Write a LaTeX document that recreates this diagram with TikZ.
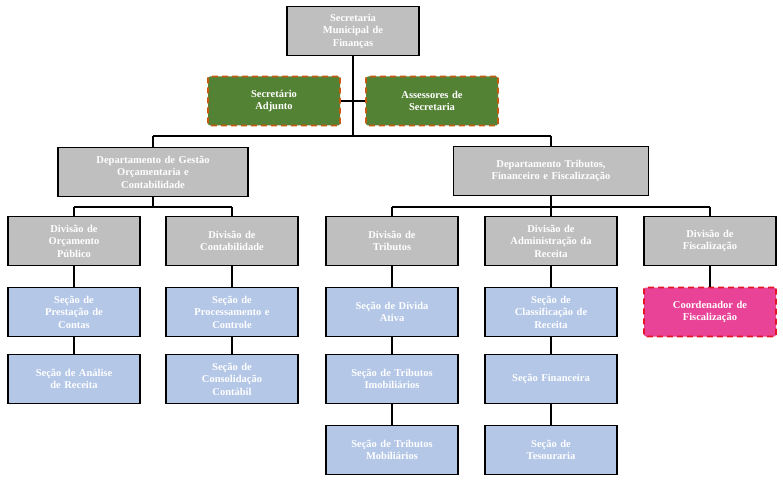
\documentclass[tikz,border=0pt]{standalone}
\usepackage{fontspec}
\setmainfont{Liberation Serif}
\definecolor{boxgray}{RGB}{191,191,191}
\definecolor{boxgreen}{RGB}{84,130,53}
\definecolor{dashorange}{RGB}{197,90,17}
\definecolor{boxblue}{RGB}{180,199,231}
\definecolor{boxpink}{RGB}{232,67,150}
\definecolor{dashred}{RGB}{230,20,40}
\tikzset{
  box/.style={draw=black, line width=1.3pt, minimum width=132pt, minimum height=49pt,
    text width=126pt, align=center, inner sep=2pt, text=white,
    font=\bfseries\fontsize{10.5}{12.5}\selectfont},
  gray box/.style={box, fill=boxgray},
  blue box/.style={box, fill=boxblue},
  green box/.style={box, fill=boxgreen, draw=dashorange, dash pattern=on 6pt off 4pt, line width=1.8pt, rounded corners=2pt},
  pink box/.style={box, fill=boxpink, draw=dashred, dash pattern=on 6pt off 4pt, line width=1.8pt, rounded corners=2pt},
  link/.style={line width=1.3pt}
}
\begin{document}
\begin{tikzpicture}[x=1pt,y=-1pt]
  \useasboundingbox (0,0) rectangle (783,481);

  % connectors first, boxes on top
  \coordinate (trunk) at (353,136);
  \coordinate (mid) at (353,101);
  \coordinate (lb) at (153,136);
  \coordinate (rb) at (551,136);
  \coordinate (lg) at (74,207);
  \coordinate (rg) at (232,207);
  \coordinate (lt) at (392,207);
  \coordinate (ct) at (551,207);
  \coordinate (rt) at (710,207);

  % secretaria
  \node[gray box] (sec) at (353,31) {Secretaria\\Municipal de\\Finanças};
  \node[green box] (adj) at (274,101) {Secretário\\Adjunto};
  \node[green box] (ass) at (432,101) {Assessores de\\Secretaria};

  % departamentos
  \node[gray box, minimum width=190pt, text width=184pt] (dg) at (153,172) {Departamento de Gestão\\Orçamentaria e\\Contabilidade};
  \node[gray box, minimum width=195pt, text width=189pt] (dt) at (551,171) {Departamento Tributos,\\Financeiro e Fiscalizzação};

  % divisoes
  \node[gray box] (dorc) at (74,241) {Divisão de\\Orçamento\\Público};
  \node[gray box] (dcon) at (232,241) {Divisão de\\Contabilidade};
  \node[gray box] (dtri) at (392,241) {Divisão de\\Tributos};
  \node[gray box] (dadm) at (551,241) {Divisão de\\Administração da\\Receita};
  \node[gray box] (dfis) at (710,241) {Divisão de\\Fiscalização};

  % secoes
  \node[blue box] (sprest) at (74,312) {Seção de\\Prestação de\\Contas};
  \node[blue box] (sanal) at (74,379) {Seção de Análise\\de Receita};
  \node[blue box] (sproc) at (232,312) {Seção de\\Processamento e\\Controle};
  \node[blue box] (scons) at (232,379) {Seção de\\Consolidação\\Contábil};
  \node[blue box] (sdiv) at (392,312) {Seção de Dívida\\Ativa};
  \node[blue box] (simob) at (392,379) {Seção de Tributos\\Imobiliários};
  \node[blue box] (smob) at (392,450) {Seção de Tributos\\Mobiliários};
  \node[blue box] (sclas) at (551,312) {Seção de\\Classificação de\\Receita};
  \node[blue box] (sfin) at (551,379) {Seção Financeira};
  \node[blue box] (steso) at (551,450) {Seção de\\Tesouraria};
  \node[pink box] (coord) at (710,312) {Coordenador de\\Fiscalização};

  % links
  \begin{scope}[on background layer/.try]
  \end{scope}
  \draw[link] (sec.south) -- (trunk);
  \draw[link] (adj.east) -- (ass.west);
  \draw[link] (lb) -- (rb);
  \draw[link] (lb) -- (dg.north);
  \draw[link] (rb) -- (dt.north);
  \draw[link] (dg.south) |- (lg) -- (rg);
  \draw[link] (lg) -- (dorc.north);
  \draw[link] (rg) -- (dcon.north);
  \draw[link] (lt) -- (rt);
  \draw[link] (dt.south) -- (ct) -- (dadm.north);
  \draw[link] (lt) -- (dtri.north);
  \draw[link] (rt) -- (dfis.north);
  \draw[link] (dorc) -- (sprest) -- (sanal);
  \draw[link] (dcon) -- (sproc) -- (scons);
  \draw[link] (dtri) -- (sdiv) -- (simob) -- (smob);
  \draw[link] (dadm) -- (sclas) -- (sfin) -- (steso);
  \draw[link] (dfis) -- (coord);
\end{tikzpicture}
\end{document}
